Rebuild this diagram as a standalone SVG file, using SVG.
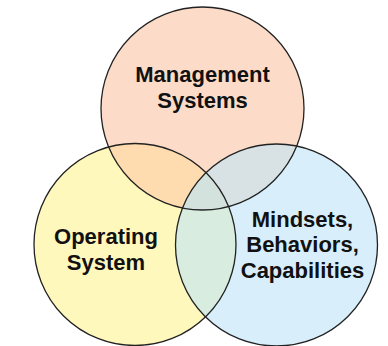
<svg xmlns="http://www.w3.org/2000/svg" width="388" height="346" viewBox="0 0 388 346">
<style>
.lbl{font-family:"Liberation Sans",Arial,sans-serif;font-weight:bold;font-size:22px;fill:#111;text-anchor:middle}
.ring{fill:none;stroke:#222;stroke-width:1.3}
</style>
<defs>
<clipPath id="cT"><circle cx="202.5" cy="108.5" r="101.5"/></clipPath>
<clipPath id="cL"><circle cx="135" cy="244.5" r="101"/></clipPath>
<clipPath id="cR"><circle cx="276.5" cy="245" r="101"/></clipPath>
</defs>
<rect width="388" height="346" fill="#ffffff"/>
<g id="fills">
<circle cx="202.5" cy="108.5" r="101.5" fill="#FCDCC8"/>
<circle cx="135" cy="244.5" r="101" fill="#FFF8BC"/>
<circle cx="276.5" cy="245" r="101" fill="#D8EEFA"/>
<g clip-path="url(#cT)"><circle cx="135" cy="244.5" r="101" fill="#FFDCB0"/></g>
<g clip-path="url(#cT)"><circle cx="276.5" cy="245" r="101" fill="#D8E2E4"/></g>
<g clip-path="url(#cL)"><circle cx="276.5" cy="245" r="101" fill="#D8ECE0"/></g>
<g clip-path="url(#cL)"><g clip-path="url(#cR)"><circle cx="202.5" cy="108.5" r="101.5" fill="#D4E2DE"/></g></g>
</g>
<g id="management">
<circle class="ring" cx="202.5" cy="108.5" r="101.5"/>
<text class="lbl" x="202.5" y="82">Management</text>
<text class="lbl" x="202.5" y="108">Systems</text>
</g>
<g id="operating">
<circle class="ring" cx="135" cy="244.5" r="101"/>
<text class="lbl" x="106" y="243.5">Operating</text>
<text class="lbl" x="106" y="270">System</text>
</g>
<g id="mindsets">
<circle class="ring" cx="276.5" cy="245" r="101"/>
<text class="lbl" x="302.5" y="226.5">Mindsets,</text>
<text class="lbl" x="302.5" y="252">Behaviors,</text>
<text class="lbl" x="302.5" y="278">Capabilities</text>
</g>
<g id="connectors"></g>
</svg>
